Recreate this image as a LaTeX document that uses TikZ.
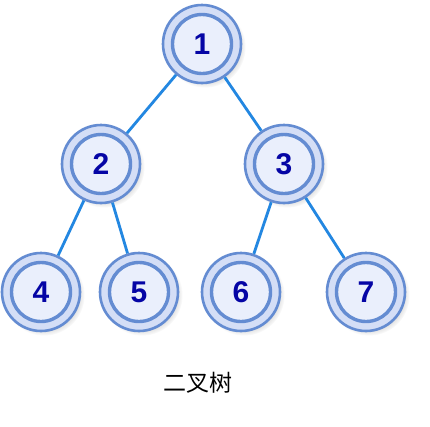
\documentclass[tikz,border=0pt]{standalone}
\usepackage{fontspec}
\usetikzlibrary{shadows}
\setmainfont{Liberation Sans}
\newfontfamily\cjk{Noto Sans CJK SC}
\definecolor{ringc}{RGB}{100,140,210}
\definecolor{outerfill}{RGB}{212,222,246}
\definecolor{innerfill}{RGB}{234,239,252}
\definecolor{edgec}{RGB}{35,135,225}
\definecolor{digitc}{RGB}{5,5,165}
\begin{document}
\begin{tikzpicture}[x=1pt,y=-1pt,
  tnode/.style={circle,minimum size=78pt,inner sep=0pt,draw=ringc,line width=2.6pt,fill=outerfill,
    circular drop shadow={shadow xshift=3pt,shadow yshift=-3pt,opacity=0.25,shadow scale=1.04},
    path picture={\draw[ringc,line width=3.4pt,fill=innerfill] (path picture bounding box.center) circle (29.5pt);},
    font=\fontsize{30}{32}\selectfont\bfseries,text=digitc},
  tedge/.style={draw=edgec,line width=2.8pt}]
\useasboundingbox (0,0) rectangle (430,426);
\fill[white] (0,0) rectangle (430,426);
\node[tnode] (n1) at (202,44) {1};
\node[tnode] (n2) at (101,164) {2};
\node[tnode] (n3) at (284,164) {3};
\node[tnode] (n4) at (41,292) {4};
\node[tnode] (n5) at (139,292) {5};
\node[tnode] (n6) at (241,292) {6};
\node[tnode] (n7) at (366,292) {7};
\draw[tedge] (n1) -- (n2);
\draw[tedge] (n1) -- (n3);
\draw[tedge] (n2) -- (n4);
\draw[tedge] (n2) -- (n5);
\draw[tedge] (n3) -- (n6);
\draw[tedge] (n3) -- (n7);
\node[font=\cjk\fontsize{23}{25}\selectfont] (cap) at (198,383) {二叉树};
\end{tikzpicture}
\end{document}
